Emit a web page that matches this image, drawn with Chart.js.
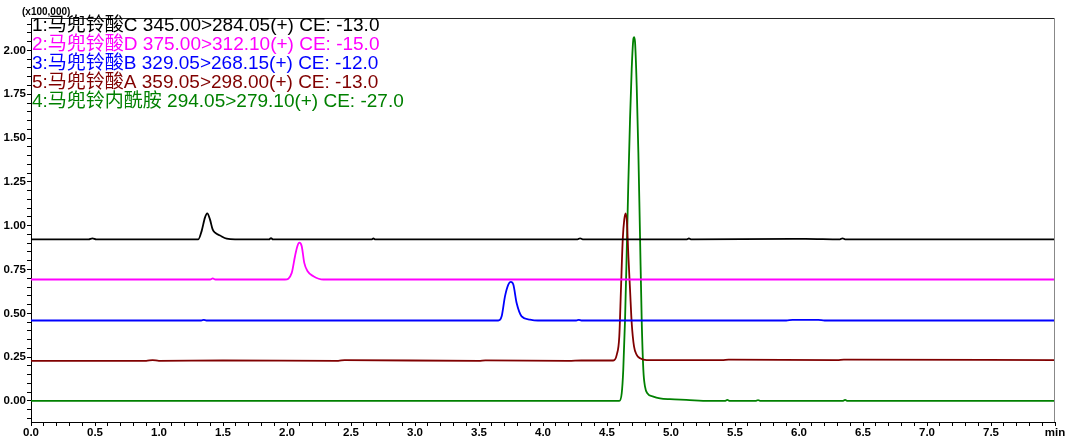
<!DOCTYPE html>
<html>
<head>
<meta charset="utf-8">
<script src="https://cdn.jsdelivr.net/npm/chart.js@4"></script>
<style>
    html, body { margin: 0; padding: 0; background: #fff; }
    #wrap { width: 1080px; height: 441px; position: relative; }
</style>
</head>
<body>
<div id="wrap"><canvas id="chromChart" width="1080" height="441"></canvas></div>
<script>
// Trace names, in legend order
const traceLabels = [
    "1:马兜铃酸C 345.00>284.05(+) CE: -13.0",
    "2:马兜铃酸D 375.00>312.10(+) CE: -15.0",
    "3:马兜铃酸B 329.05>268.15(+) CE: -12.0",
    "5:马兜铃酸A 359.05>298.00(+) CE: -13.0",
    "4:马兜铃内酰胺 294.05>279.10(+) CE: -27.0"
];
const traceColors = ["#000000", "#ff00ff", "#0000ff", "#800000", "#008000"];

// Retention time (min) and intensity (x100,000)
const acidC_t = [0, 0.45, 0.48, 0.51, 1.307, 1.333, 1.359, 1.377, 1.398, 1.419, 1.438, 1.477, 1.529, 1.594, 1.86, 1.875, 1.89, 2.66, 2.675, 2.69, 4.27, 4.29, 4.31, 5.12, 5.14, 5.16, 5.95, 6.05, 6.32, 6.34, 6.36, 8.0];
const acidC_v = [0.922, 0.922, 0.928, 0.922, 0.922, 0.969, 1.046, 1.07, 1.036, 0.979, 0.96, 0.944, 0.926, 0.922, 0.922, 0.929, 0.922, 0.922, 0.927, 0.922, 0.922, 0.928, 0.922, 0.922, 0.927, 0.922, 0.925, 0.925, 0.922, 0.928, 0.922, 0.922];

const acidD_t = [0, 1.40, 1.42, 1.44, 1.984, 2.037, 2.0625, 2.081, 2.096, 2.115, 2.135, 2.161, 2.206, 2.284, 8.0];
const acidD_v = [0.693, 0.693, 0.699, 0.693, 0.693, 0.731, 0.826, 0.883, 0.903, 0.883, 0.788, 0.740, 0.712, 0.693, 0.693];

const acidB_t = [0, 1.33, 1.35, 1.37, 3.651, 3.677, 3.703, 3.729, 3.748, 3.768, 3.794, 3.833, 3.898, 3.96, 4.26, 4.28, 4.30, 5.90, 5.95, 6.15, 6.2, 8.0];
const acidB_v = [0.459, 0.459, 0.463, 0.459, 0.459, 0.483, 0.597, 0.664, 0.679, 0.664, 0.559, 0.483, 0.464, 0.459, 0.459, 0.463, 0.459, 0.459, 0.463, 0.463, 0.459, 0.459];

const acidA_t = [0, 0.9, 0.95, 1.0, 1.5, 2.4, 2.45, 3.5, 3.55, 4.2, 4.3, 4.549, 4.576, 4.596, 4.609, 4.623, 4.635, 4.646, 4.656, 4.667, 4.68, 4.693, 4.711, 4.732, 4.758, 4.81, 5.4, 5.45, 6.3, 6.35, 8.0];
const acidA_v = [0.229, 0.229, 0.233, 0.229, 0.231, 0.229, 0.233, 0.229, 0.232, 0.229, 0.231, 0.231, 0.263, 0.368, 0.635, 0.922, 1.036, 1.07, 1.017, 0.826, 0.635, 0.445, 0.311, 0.263, 0.244, 0.233, 0.233, 0.236, 0.233, 0.236, 0.233];

const lactam_t = [0, 4.596, 4.615, 4.627, 4.641, 4.654, 4.666, 4.68, 4.693, 4.706, 4.711, 4.719, 4.732, 4.745, 4.758, 4.771, 4.784, 4.797, 4.815, 4.862, 4.914, 4.992, 5.12, 5.30, 5.42, 5.44, 5.46, 5.66, 5.68, 5.70, 6.34, 6.36, 6.38, 8.0];
const lactam_v = [0, 0, 0.044, 0.177, 0.464, 0.845, 1.227, 1.608, 1.895, 2.066, 2.076, 2.048, 1.799, 1.418, 0.941, 0.464, 0.177, 0.082, 0.044, 0.025, 0.015, 0.01, 0.006, 0, 0, 0.006, 0, 0, 0.005, 0, 0, 0.006, 0, 0];

// Axis ticks
const xMajorTicks = [0, 0.5, 1, 1.5, 2, 2.5, 3, 3.5, 4, 4.5, 5, 5.5, 6, 6.5, 7, 7.5, 8];
const xTickLabels = ["0.0", "0.5", "1.0", "1.5", "2.0", "2.5", "3.0", "3.5", "4.0", "4.5", "5.0", "5.5", "6.0", "6.5", "7.0", "7.5", "min"];
const yMajorTicks = [0, 0.25, 0.5, 0.75, 1, 1.25, 1.5, 1.75, 2];
const yTickLabels = ["0.00", "0.25", "0.50", "0.75", "1.00", "1.25", "1.50", "1.75", "2.00"];

const traces = [
    [acidC_t, acidC_v],
    [acidD_t, acidD_v],
    [acidB_t, acidB_v],
    [acidA_t, acidA_v],
    [lactam_t, lactam_v]
];

function toPoints(times, values) {
    return times.map((t, i) => ({ x: t, y: values[i] }));
}

function minorTicks(from, to, step) {
    const out = [];
    for (let k = Math.round(from / step); k * step <= to + 1e-9; k++) {
        out.push({ value: +(k * step).toFixed(4) });
    }
    return out;
}

function majorLabel(value, majors, labels) {
    const idx = majors.findIndex(m => Math.abs(m - value) < 1e-6);
    return idx >= 0 ? labels[idx] : "";
}

const tickFont = { family: "'Liberation Sans', Arial, sans-serif", size: 11.5, weight: "bold" };

// Frame, unit label and coloured trace names
const decorPlugin = {
    id: "decor",
    afterDraw(chart) {
        const { ctx, chartArea } = chart;
        ctx.save();
        ctx.lineWidth = 1;
        ctx.strokeStyle = "#222";
        ctx.beginPath();
        ctx.moveTo(chartArea.left, chartArea.top + 0.5);
        ctx.lineTo(chartArea.right, chartArea.top + 0.5);
        ctx.stroke();
        ctx.strokeStyle = "#888";
        ctx.beginPath();
        ctx.moveTo(chartArea.right - 0.5, chartArea.top);
        ctx.lineTo(chartArea.right - 0.5, chartArea.bottom);
        ctx.stroke();

        ctx.fillStyle = "#000";
        ctx.font = "bold 10px 'Liberation Sans', Arial, sans-serif";
        ctx.textBaseline = "alphabetic";
        ctx.textAlign = "left";
        ctx.fillText("(x100,000)", 22, 15);

        ctx.font = "19px 'Liberation Sans', Arial, 'Noto Sans CJK SC', sans-serif";
        ctx.textBaseline = "middle";
        chart.data.datasets.forEach((ds, i) => {
            ctx.fillStyle = ds.borderColor;
            ctx.fillText(ds.label, chartArea.left + 1, 26 + i * 19);
        });
        ctx.restore();
    }
};

new Chart(document.getElementById("chromChart"), {
    type: "line",
    data: {
        datasets: traces.map((tr, i) => ({
            label: traceLabels[i],
            data: toPoints(tr[0], tr[1]),
            borderColor: traceColors[i],
            borderWidth: 1.8,
            pointRadius: 0,
            fill: false,
            cubicInterpolationMode: "monotone"
        }))
    },
    options: {
        responsive: false,
        animation: false,
        devicePixelRatio: 1,
        layout: { padding: { top: 18, right: 25, left: 0, bottom: 0 } },
        plugins: {
            legend: { display: false },
            tooltip: { enabled: false }
        },
        scales: {
            x: {
                type: "linear",
                min: 0,
                max: 8,
                afterBuildTicks: scale => { scale.ticks = minorTicks(0, 8, 0.1); },
                afterFit: scale => { scale.height = 19; },
                ticks: {
                    autoSkip: false,
                    maxRotation: 0,
                    padding: 0,
                    color: "#000",
                    font: tickFont,
                    callback: value => majorLabel(value, xMajorTicks, xTickLabels)
                },
                grid: { drawOnChartArea: false, tickLength: 4, color: "#000" },
                border: { display: true, color: "#000", width: 1 }
            },
            y: {
                type: "linear",
                min: -0.12,
                max: 2.185,
                afterBuildTicks: scale => { scale.ticks = minorTicks(-0.1, 2.15, 0.05); },
                afterFit: scale => { scale.width = 31; },
                ticks: {
                    autoSkip: false,
                    padding: 1,
                    color: "#000",
                    font: tickFont,
                    callback: value => majorLabel(value, yMajorTicks, yTickLabels)
                },
                grid: { drawOnChartArea: false, tickLength: 4, color: "#000" },
                border: { display: true, color: "#000", width: 1 }
            }
        }
    },
    plugins: [decorPlugin]
});
</script>
</body>
</html>
